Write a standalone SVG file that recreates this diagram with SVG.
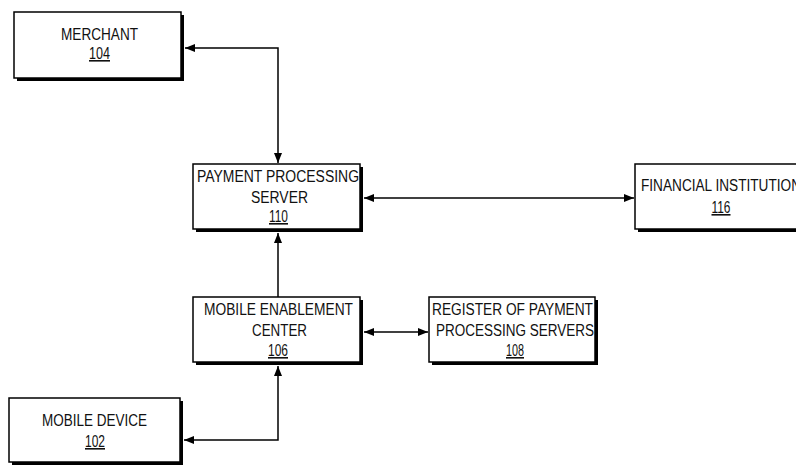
<svg xmlns="http://www.w3.org/2000/svg" width="796" height="466" viewBox="0 0 796 466">
<style>
.sh{fill:#000}
.bx{fill:#fff;stroke:#000;stroke-width:1.5}
text{font-family:"Liberation Sans",Arial,sans-serif;font-size:16px;fill:#111;text-anchor:middle}
.n{text-decoration:underline}
.c{fill:none;stroke:#000;stroke-width:1.5}
</style>
<defs>
<marker id="ah" viewBox="0 0 10 8" refX="10" refY="4" markerWidth="10" markerHeight="8" markerUnits="userSpaceOnUse" orient="auto-start-reverse">
<path d="M0,0 L10,4 L0,8 Z" fill="#000"/>
</marker>
</defs>
<rect width="796" height="466" fill="#fff"/>
<g id="connectors">
<path class="c" d="M278,163 V48 H185" marker-start="url(#ah)" marker-end="url(#ah)"/>
<path class="c" d="M364,198 H634" marker-start="url(#ah)" marker-end="url(#ah)"/>
<path class="c" d="M278,297 V233" marker-end="url(#ah)"/>
<path class="c" d="M364,332 H428" marker-start="url(#ah)" marker-end="url(#ah)"/>
<path class="c" d="M184,440 H278 V366" marker-start="url(#ah)" marker-end="url(#ah)"/>
</g>
<g id="merchant">
<rect class="sh" x="17" y="15" width="167" height="66"/>
<rect class="bx" x="14" y="12" width="167" height="66"/>
<text x="99.5" y="40" textLength="77" lengthAdjust="spacingAndGlyphs">MERCHANT</text>
<text class="n" x="99.5" y="59" textLength="21" lengthAdjust="spacingAndGlyphs">104</text>
</g>
<g id="payment-processing-server">
<rect class="sh" x="196" y="167" width="167" height="65"/>
<rect class="bx" x="193" y="164" width="167" height="65"/>
<text x="278" y="182" textLength="162" lengthAdjust="spacingAndGlyphs">PAYMENT PROCESSING</text>
<text x="279.5" y="203" textLength="57" lengthAdjust="spacingAndGlyphs">SERVER</text>
<text class="n" x="278.5" y="222" textLength="19" lengthAdjust="spacingAndGlyphs">110</text>
</g>
<g id="financial-institution">
<rect class="sh" x="638" y="167" width="180" height="65"/>
<rect class="bx" x="635" y="164" width="180" height="65"/>
<text x="721" y="191" textLength="160" lengthAdjust="spacingAndGlyphs">FINANCIAL INSTITUTION</text>
<text class="n" x="721" y="213" textLength="19" lengthAdjust="spacingAndGlyphs">116</text>
</g>
<g id="mobile-enablement-center">
<rect class="sh" x="196" y="300" width="167" height="65"/>
<rect class="bx" x="193" y="297" width="167" height="65"/>
<text x="278.5" y="315" textLength="149" lengthAdjust="spacingAndGlyphs">MOBILE ENABLEMENT</text>
<text x="279.5" y="336" textLength="55" lengthAdjust="spacingAndGlyphs">CENTER</text>
<text class="n" x="278" y="356" textLength="20" lengthAdjust="spacingAndGlyphs">106</text>
</g>
<g id="register">
<rect class="sh" x="432" y="300" width="166" height="65"/>
<rect class="bx" x="429" y="297" width="166" height="65"/>
<text x="512.5" y="315" textLength="161" lengthAdjust="spacingAndGlyphs">REGISTER OF PAYMENT</text>
<text x="515" y="336" textLength="158" lengthAdjust="spacingAndGlyphs">PROCESSING SERVERS</text>
<text class="n" x="515" y="356" textLength="18" lengthAdjust="spacingAndGlyphs">108</text>
</g>
<g id="mobile-device">
<rect class="sh" x="12" y="401" width="171" height="64"/>
<rect class="bx" x="9" y="398" width="171" height="64"/>
<text x="94.5" y="426" textLength="105" lengthAdjust="spacingAndGlyphs">MOBILE DEVICE</text>
<text class="n" x="95" y="447" textLength="20" lengthAdjust="spacingAndGlyphs">102</text>
</g>
</svg>
